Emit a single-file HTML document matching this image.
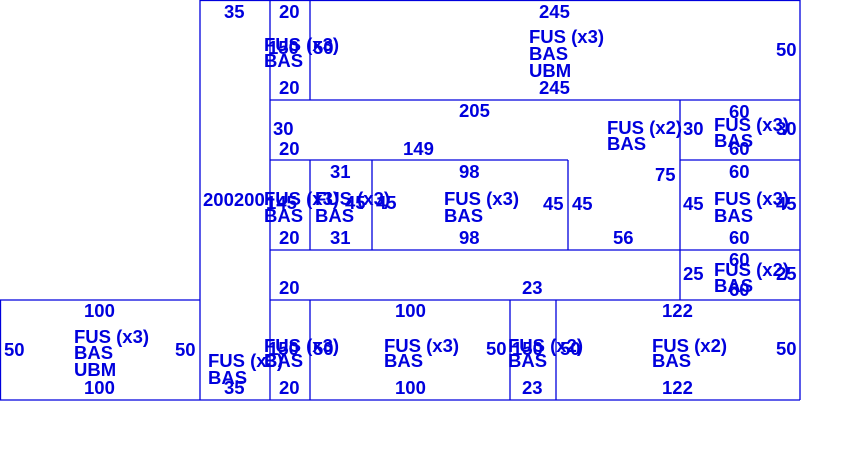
<!DOCTYPE html>
<html><head><meta charset="utf-8"><style>
html,body{margin:0;padding:0;background:#fff;width:850px;height:450px;overflow:hidden}
svg text{font-family:"Liberation Sans",Arial,sans-serif;font-weight:bold;font-size:18.5px;fill:#0000dd}
</style></head><body>
<svg width="850" height="450" xmlns="http://www.w3.org/2000/svg">
<g stroke="#0000dd" stroke-width="1.3" fill="none">
<line x1="200" y1="0.5" x2="800" y2="0.5"/>
<line x1="270" y1="100" x2="800" y2="100"/>
<line x1="270" y1="160" x2="568" y2="160"/>
<line x1="680" y1="160" x2="800" y2="160"/>
<line x1="270" y1="250" x2="800" y2="250"/>
<line x1="0" y1="300" x2="200" y2="300"/>
<line x1="270" y1="300" x2="800" y2="300"/>
<line x1="0" y1="400" x2="800" y2="400"/>
<line x1="0.5" y1="300" x2="0.5" y2="400"/>
<line x1="200" y1="0" x2="200" y2="400"/>
<line x1="270" y1="0" x2="270" y2="400"/>
<line x1="310" y1="0" x2="310" y2="100"/>
<line x1="310" y1="160" x2="310" y2="250"/>
<line x1="310" y1="300" x2="310" y2="400"/>
<line x1="372" y1="160" x2="372" y2="250"/>
<line x1="568" y1="160" x2="568" y2="250"/>
<line x1="680" y1="100" x2="680" y2="300"/>
<line x1="510" y1="300" x2="510" y2="400"/>
<line x1="556" y1="300" x2="556" y2="400"/>
<line x1="800" y1="0" x2="800" y2="400"/>
</g>
<text x="224" y="18">35</text>
<text x="279" y="18">20</text>
<text x="539" y="18">245</text>
<text x="264" y="51">FUS (x3)</text>
<text x="268" y="54">150</text><text x="313" y="54">50</text>
<text x="264" y="67">BAS</text>
<text x="279" y="94">20</text>
<text x="529" y="43">FUS (x3)</text>
<text x="529" y="60">BAS</text>
<text x="529" y="77">UBM</text>
<text x="539" y="94">245</text>
<text x="776" y="56">50</text>
<text x="459" y="117">205</text>
<text x="273" y="135">30</text>
<text x="279" y="155">20</text>
<text x="403" y="155">149</text>
<text x="607" y="134">FUS (x2)</text>
<text x="607" y="150">BAS</text>
<text x="683" y="135">30</text>
<text x="729" y="118">60</text>
<text x="714" y="131">FUS (x3)</text>
<text x="714" y="147">BAS</text>
<text x="729" y="155">60</text>
<text x="776" y="135">30</text>
<text x="330" y="178">31</text>
<text x="459" y="178">98</text>
<text x="655" y="181">75</text>
<text x="203" y="206">200200</text>
<text x="264" y="205">FUS (x3)</text>
<text x="266" y="209">145</text>
<text x="315" y="205">FUS (x3)</text>
<text x="345" y="209">45</text>
<text x="376" y="209">45</text>
<text x="264" y="222">BAS</text>
<text x="315" y="222">BAS</text>
<text x="444" y="205">FUS (x3)</text>
<text x="444" y="222">BAS</text>
<text x="543" y="210">45</text>
<text x="572" y="210">45</text>
<text x="683" y="210">45</text>
<text x="729" y="178">60</text>
<text x="714" y="205">FUS (x3)</text>
<text x="714" y="222">BAS</text>
<text x="776" y="210">45</text>
<text x="729" y="244">60</text>
<text x="279" y="244">20</text>
<text x="330" y="244">31</text>
<text x="459" y="244">98</text>
<text x="613" y="244">56</text>
<text x="683" y="280">25</text>
<text x="729" y="266">60</text>
<text x="714" y="276">FUS (x2)</text>
<text x="714" y="292">BAS</text>
<text x="729" y="296">60</text>
<text x="776" y="280">25</text>
<text x="279" y="294">20</text>
<text x="522" y="294">23</text>
<text x="84" y="317">100</text>
<text x="74" y="343">FUS (x3)</text>
<text x="74" y="359">BAS</text>
<text x="74" y="376">UBM</text>
<text x="84" y="394">100</text>
<text x="4" y="356">50</text>
<text x="175" y="356">50</text>
<text x="208" y="367">FUS (x3)</text>
<text x="208" y="384">BAS</text>
<text x="224" y="394">35</text>
<text x="264" y="352">FUS (x3)</text>
<text x="268" y="355">150</text><text x="313" y="355">50</text>
<text x="264" y="367">BAS</text>
<text x="279" y="394">20</text>
<text x="395" y="317">100</text>
<text x="384" y="352">FUS (x3)</text>
<text x="384" y="367">BAS</text>
<text x="395" y="394">100</text>
<text x="486" y="355">50</text>
<text x="508" y="352">FUS (x2)</text>
<text x="512" y="355">150</text><text x="560" y="355">50</text>
<text x="508" y="367">BAS</text>
<text x="522" y="394">23</text>
<text x="662" y="317">122</text>
<text x="652" y="352">FUS (x2)</text>
<text x="652" y="367">BAS</text>
<text x="776" y="355">50</text>
<text x="662" y="394">122</text>
</svg>
</body></html>
